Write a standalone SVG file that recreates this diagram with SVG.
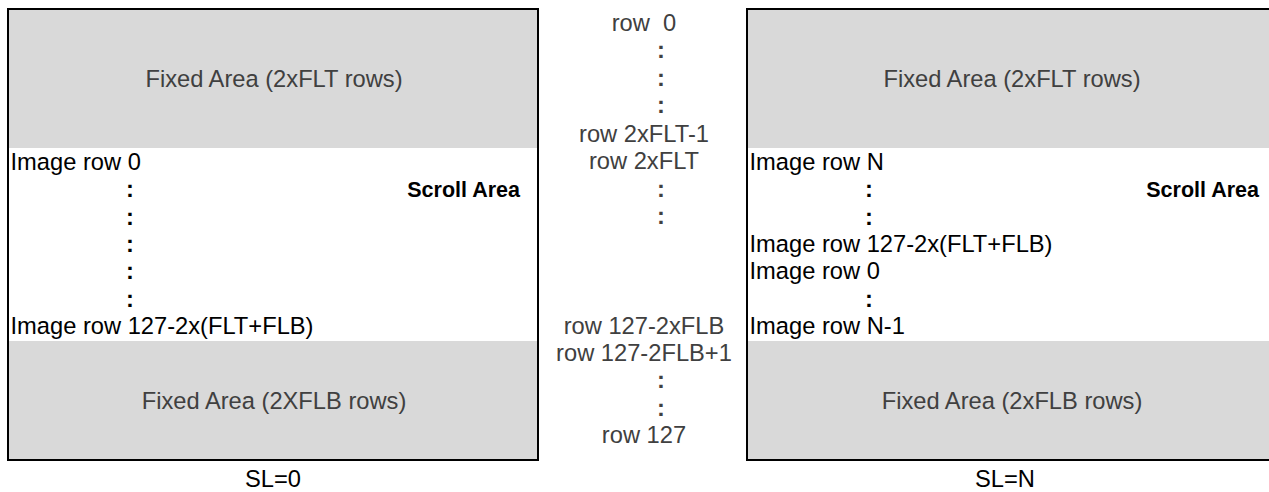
<svg xmlns="http://www.w3.org/2000/svg" width="1269" height="492" viewBox="0 0 1269 492">
<style>
text{font-family:"Liberation Sans",Arial,sans-serif;font-size:23.7px;white-space:pre}
.fixed{fill:#d9d9d9}
.frame{fill:none;stroke:#000;stroke-width:2}
.ft{fill:#404040;text-anchor:middle}
.img{fill:#000}
.dot{fill:#000;font-weight:bold;text-anchor:middle}
.mid{fill:#404040;text-anchor:middle}
.mdot{fill:#404040;font-weight:bold;text-anchor:middle}
.sa{fill:#000;font-weight:bold;font-size:21.5px;text-anchor:end}
.sl{fill:#000;text-anchor:middle}
</style>
<rect width="1269" height="492" fill="#fff"/>
<g id="panel-sl0">
<rect class="fixed" x="8" y="9" width="530" height="139"/>
<rect class="fixed" x="8" y="341" width="530" height="119"/>
<rect class="frame" x="8" y="9" width="530" height="451"/>
<text class="ft" x="274" y="87">Fixed Area (2xFLT rows)</text>
<text class="ft" x="274" y="409">Fixed Area (2XFLB rows)</text>
<text class="img" x="10.5" y="170">Image row 0</text>
<text class="dot" x="130" y="197">:</text>
<text class="dot" x="130" y="225">:</text>
<text class="dot" x="130" y="252">:</text>
<text class="dot" x="130" y="279">:</text>
<text class="dot" x="130" y="307">:</text>
<text class="img" x="10.5" y="334">Image row 127-2x(FLT+FLB)</text>
<text class="sa" x="520" y="197">Scroll Area</text>
<text class="sl" x="273" y="487">SL=0</text>
</g>
<g id="rows">
<text class="mid" x="644" y="31" xml:space="preserve">row  0</text>
<text class="mdot" x="661" y="58">:</text>
<text class="mdot" x="661" y="86">:</text>
<text class="mdot" x="661" y="113">:</text>
<text class="mid" x="644" y="142">row 2xFLT-1</text>
<text class="mid" x="644" y="169">row 2xFLT</text>
<text class="mdot" x="661" y="197">:</text>
<text class="mdot" x="661" y="224">:</text>
<text class="mid" x="644" y="334">row 127-2xFLB</text>
<text class="mid" x="644" y="361">row 127-2FLB+1</text>
<text class="mdot" x="661" y="388">:</text>
<text class="mdot" x="661" y="416">:</text>
<text class="mid" x="644" y="443">row 127</text>
</g>
<g id="panel-sln">
<rect class="fixed" x="747" y="9" width="530" height="139"/>
<rect class="fixed" x="747" y="341" width="530" height="119"/>
<rect class="frame" x="747" y="9" width="530" height="451"/>
<text class="ft" x="1012" y="87">Fixed Area (2xFLT rows)</text>
<text class="ft" x="1012" y="409">Fixed Area (2xFLB rows)</text>
<text class="img" x="749.5" y="170">Image row N</text>
<text class="dot" x="869" y="197">:</text>
<text class="dot" x="869" y="225">:</text>
<text class="img" x="749.5" y="252">Image row 127-2x(FLT+FLB)</text>
<text class="img" x="749.5" y="279">Image row 0</text>
<text class="dot" x="869" y="307">:</text>
<text class="img" x="749.5" y="334">Image row N-1</text>
<text class="sa" x="1259" y="197">Scroll Area</text>
<text class="sl" x="1005" y="487">SL=N</text>
</g>
<g id="connectors"/>
</svg>
